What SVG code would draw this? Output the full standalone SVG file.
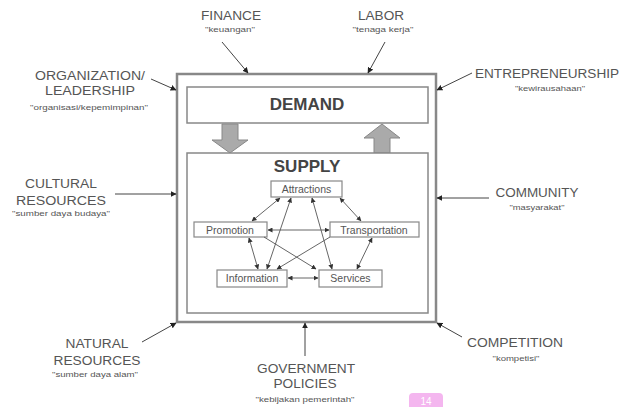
<svg xmlns="http://www.w3.org/2000/svg" width="619" height="407" viewBox="0 0 619 407">
<defs>
<marker id="ah" viewBox="0 0 10 10" refX="9" refY="5" markerWidth="6" markerHeight="6" markerUnits="userSpaceOnUse" orient="auto-start-reverse">
<path d="M0,0 L10,5 L0,10 z" fill="#222"/>
</marker>
<marker id="ahs" viewBox="0 0 10 10" refX="9" refY="5" markerWidth="5" markerHeight="5" markerUnits="userSpaceOnUse" orient="auto-start-reverse">
<path d="M0,0 L10,5 L0,10 z" fill="#333"/>
</marker>
</defs>
<style>
.lbl{font-family:"Liberation Sans",Arial,sans-serif;font-size:12px;fill:#555;text-anchor:middle}
.sub{font-family:"Liberation Sans",Arial,sans-serif;font-size:7px;fill:#555;text-anchor:middle}
.big{font-family:"Liberation Sans",Arial,sans-serif;font-size:17px;font-weight:bold;fill:#444;text-anchor:middle}
.nd{font-family:"Liberation Sans",Arial,sans-serif;font-size:10.5px;fill:#555;text-anchor:middle}
.box{fill:#fff;stroke:#888;stroke-width:1.5}
.nbox{fill:#fff;stroke:#888;stroke-width:1.2}
.ext{stroke:#444;stroke-width:1;fill:none;marker-end:url(#ah)}
.in{stroke:#555;stroke-width:0.9;fill:none;marker-end:url(#ahs)}
.bi{marker-start:url(#ahs)}
.blk{fill:#aaa;stroke:#888;stroke-width:1}
</style>
<rect width="619" height="407" fill="#fff"/>
<g id="system">
<rect x="177" y="74" width="259" height="248" fill="#fff" stroke="#888" stroke-width="2.5"/>
</g>
<g id="demand">
<rect class="box" x="187" y="87" width="241" height="36"/>
<text class="big" x="307" y="110">DEMAND</text>
</g>
<g id="flow-arrows">
<path class="blk" d="M222,124 H238 V140 H248 L230,153 L212,140 H222 Z"/>
<path class="blk" d="M374,153 V138 H364 L382,124 L400,138 H390 V153 Z"/>
</g>
<g id="supply">
<rect class="box" x="187" y="153" width="241" height="160"/>
<text class="big" x="307" y="172">SUPPLY</text>
</g>
<g id="attractions"><rect class="nbox" x="271" y="181" width="71" height="16"/><text class="nd" x="306.5" y="193">Attractions</text></g>
<g id="promotion"><rect class="nbox" x="194" y="222" width="73" height="15"/><text class="nd" x="230" y="233.5">Promotion</text></g>
<g id="transportation"><rect class="nbox" x="330" y="222" width="89" height="15"/><text class="nd" x="374" y="233.5">Transportation</text></g>
<g id="information"><rect class="nbox" x="217" y="270" width="70" height="17"/><text class="nd" x="252" y="282">Information</text></g>
<g id="services"><rect class="nbox" x="319" y="270" width="63" height="17"/><text class="nd" x="350.5" y="282">Services</text></g>
<g id="connectors">
<line class="in bi" x1="280" y1="198" x2="252" y2="221"/>
<line class="in bi" x1="340" y1="198" x2="361" y2="221"/>
<line class="in bi" x1="291" y1="198" x2="267" y2="269"/>
<line class="in bi" x1="312" y1="198" x2="332" y2="269"/>
<line class="in bi" x1="268" y1="230" x2="329" y2="230"/>
<line class="in bi" x1="249" y1="238" x2="258" y2="269"/>
<line class="in" x1="264" y1="237" x2="316" y2="269"/>
<line class="in" x1="330" y1="237" x2="277" y2="269"/>
<line class="in bi" x1="372" y1="238" x2="357" y2="269"/>
<line class="in bi" x1="288" y1="278" x2="318" y2="278"/>
<line class="ext" x1="222" y1="42" x2="248" y2="73"/>
<line class="ext" x1="385" y1="42" x2="368" y2="73"/>
<line class="ext" x1="151" y1="79" x2="176" y2="90"/>
<line class="ext" x1="472" y1="73" x2="437" y2="90"/>
<line class="ext" x1="115" y1="194" x2="176" y2="194"/>
<line class="ext" x1="489" y1="198" x2="437" y2="198"/>
<line class="ext" x1="142" y1="342" x2="176" y2="323"/>
<line class="ext" x1="305" y1="356" x2="305" y2="323"/>
<line class="ext" x1="462" y1="337" x2="437" y2="323"/>
</g>
<g id="finance"><text class="lbl" x="231" y="20" textLength="60" lengthAdjust="spacingAndGlyphs">FINANCE</text><text class="sub" x="230" y="31.5" textLength="50" lengthAdjust="spacingAndGlyphs">"keuangan"</text></g>
<g id="labor"><text class="lbl" x="381" y="20" textLength="46" lengthAdjust="spacingAndGlyphs">LABOR</text><text class="sub" x="383" y="32" textLength="61" lengthAdjust="spacingAndGlyphs">"tenaga kerja"</text></g>
<g id="organization"><text class="lbl" x="90" y="80" textLength="110" lengthAdjust="spacingAndGlyphs">ORGANIZATION/</text><text class="lbl" x="90" y="95" textLength="90" lengthAdjust="spacingAndGlyphs">LEADERSHIP</text><text class="sub" x="89" y="109.5" textLength="118" lengthAdjust="spacingAndGlyphs">"organisasi/kepemimpinan"</text></g>
<g id="entrepreneurship"><text class="lbl" x="547" y="78" textLength="144" lengthAdjust="spacingAndGlyphs">ENTREPRENEURSHIP</text><text class="sub" x="550" y="90.5" textLength="70" lengthAdjust="spacingAndGlyphs">"kewirausahaan"</text></g>
<g id="cultural"><text class="lbl" x="61" y="188" textLength="72" lengthAdjust="spacingAndGlyphs">CULTURAL</text><text class="lbl" x="61" y="205" textLength="90" lengthAdjust="spacingAndGlyphs">RESOURCES</text><text class="sub" x="61" y="215.5" textLength="98" lengthAdjust="spacingAndGlyphs">"sumber daya budaya"</text></g>
<g id="community"><text class="lbl" x="537" y="197" textLength="83" lengthAdjust="spacingAndGlyphs">COMMUNITY</text><text class="sub" x="537" y="209.5" textLength="55" lengthAdjust="spacingAndGlyphs">"masyarakat"</text></g>
<g id="natural"><text class="lbl" x="97" y="348" textLength="63" lengthAdjust="spacingAndGlyphs">NATURAL</text><text class="lbl" x="97" y="365" textLength="87" lengthAdjust="spacingAndGlyphs">RESOURCES</text><text class="sub" x="95" y="376.5" textLength="86" lengthAdjust="spacingAndGlyphs">"sumber daya alam"</text></g>
<g id="government"><text class="lbl" x="306" y="373" textLength="98" lengthAdjust="spacingAndGlyphs">GOVERNMENT</text><text class="lbl" x="305" y="388" textLength="63" lengthAdjust="spacingAndGlyphs">POLICIES</text><text class="sub" x="305" y="401.5" textLength="99" lengthAdjust="spacingAndGlyphs">"kebijakan pemerintah"</text></g>
<g id="competition"><text class="lbl" x="515" y="347" textLength="96" lengthAdjust="spacingAndGlyphs">COMPETITION</text><text class="sub" x="516" y="360.5" textLength="47" lengthAdjust="spacingAndGlyphs">"kompetisi"</text></g>
<g id="page-badge">
<rect x="409" y="393" width="34" height="22" rx="4" fill="#f4b6ef"/>
<text x="426" y="405" font-family="'Liberation Sans',Arial,sans-serif" font-size="10" fill="#fff" text-anchor="middle">14</text>
</g>
</svg>
